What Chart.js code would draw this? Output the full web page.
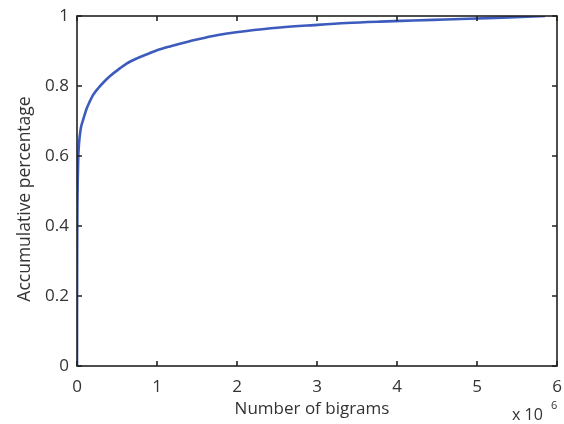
<!DOCTYPE html>
<html>
<head>
<meta charset="utf-8">
<script src="https://cdn.jsdelivr.net/npm/chart.js@4/dist/chart.umd.min.js"></script>
<style>
html,body{margin:0;padding:0;background:#fff;}
#c{display:block;}
</style>
</head>
<body>
<canvas id="c" width="564" height="424"></canvas>
<script>
// Number of bigrams (x 10^6)
const bigramsMillions = [0, 0.001, 0.003, 0.006, 0.01, 0.016, 0.022, 0.03, 0.04, 0.05, 0.065, 0.08, 0.1, 0.12, 0.16, 0.2, 0.27, 0.33, 0.41, 0.54, 0.62, 0.75, 0.9, 1.0, 1.16, 1.41, 1.7, 2.12, 2.54, 2.96, 3.37, 3.79, 4.2, 4.6, 5.0, 5.4, 5.85];
// Accumulative percentage
const accumulative = [0, 0.22, 0.38, 0.48, 0.54, 0.597, 0.625, 0.648, 0.667, 0.682, 0.695, 0.706, 0.721, 0.735, 0.756, 0.774, 0.795, 0.81, 0.828, 0.851, 0.864, 0.879, 0.893, 0.902, 0.913, 0.928, 0.943, 0.957, 0.967, 0.974, 0.980, 0.984, 0.987, 0.990, 0.993, 0.996, 1.0];
const xTickValues = [0, 1, 2, 3, 4, 5, 6];
const yTickValues = [0, 0.2, 0.4, 0.6, 0.8, 1];
const yTickLabels = ["0", "0.2", "0.4", "0.6", "0.8", "1"];
const xTitle = "Number of bigrams";
const yTitle = "Accumulative percentage";
const xMultiplier = "x 10";
const xExponent = "6";

const points = bigramsMillions.map((x, i) => ({x: x, y: accumulative[i]}));
const FONT = "'Open Sans', 'Liberation Sans', sans-serif";
const TXT = "#333";

const framePlugin = {
  id: 'frame',
  afterDraw(chart) {
    const ctx = chart.ctx;
    const a = chart.chartArea;
    const xs = chart.scales.x, ys = chart.scales.y;
    ctx.save();
    ctx.strokeStyle = "#222";
    ctx.lineWidth = 1.6;
    ctx.strokeRect(a.left, a.top, a.right - a.left, a.bottom - a.top);
    const L = 5;
    ctx.beginPath();
    xTickValues.forEach(v => {
      const px = xs.getPixelForValue(v);
      ctx.moveTo(px, a.bottom); ctx.lineTo(px, a.bottom - L);
      ctx.moveTo(px, a.top); ctx.lineTo(px, a.top + L);
    });
    yTickValues.forEach(v => {
      const py = ys.getPixelForValue(v);
      ctx.moveTo(a.left, py); ctx.lineTo(a.left + L, py);
      ctx.moveTo(a.right, py); ctx.lineTo(a.right - L, py);
    });
    ctx.stroke();
    ctx.fillStyle = TXT;
    // y axis title
    ctx.save();
    ctx.translate(25, 199);
    ctx.rotate(-Math.PI / 2);
    ctx.font = "17.5px " + FONT;
    ctx.textAlign = "center";
    ctx.textBaseline = "middle";
    ctx.fillText(yTitle, 0, 0);
    ctx.restore();
    // x axis title
    ctx.font = "17px " + FONT;
    ctx.textAlign = "center";
    ctx.textBaseline = "middle";
    ctx.fillText(xTitle, 312, 409);
    // multiplier
    ctx.font = "16px " + FONT;
    ctx.textBaseline = "middle";
    ctx.textAlign = "left";
    ctx.fillText(xMultiplier, 512, 415);
    ctx.font = "11px " + FONT;
    ctx.fillText(xExponent, 551, 406);
    ctx.restore();
  }
};

new Chart(document.getElementById('c'), {
  type: 'line',
  data: {
    datasets: [{
      data: points,
      borderColor: '#3c5bbd',
      borderWidth: 2.6,
      pointRadius: 0,
      fill: false,
      cubicInterpolationMode: 'monotone'
    }]
  },
  options: {
    responsive: false,
    animation: false,
    devicePixelRatio: 1,
    layout: {padding: {top: 16, right: 7, left: 0, bottom: 0}},
    plugins: {legend: {display: false}, tooltip: {enabled: false}},
    scales: {
      x: {
        type: 'linear', min: 0, max: 6,
        afterFit(s) { s.height = 58; s.paddingLeft = 0; s.paddingRight = 0; },
        afterBuildTicks(s) { s.ticks = xTickValues.map(v => ({value: v})); },
        grid: {display: false, drawTicks: false},
        border: {display: false},
        ticks: {color: TXT, font: {family: FONT, size: 17}, padding: 11, maxRotation: 0},
        title: {display: false}
      },
      y: {
        type: 'linear', min: 0, max: 1,
        afterFit(s) { s.width = 77; s.paddingTop = 0; s.paddingBottom = 0; },
        afterBuildTicks(s) { s.ticks = yTickValues.map(v => ({value: v})); },
        grid: {display: false, drawTicks: false},
        border: {display: false},
        ticks: {color: TXT, font: {family: FONT, size: 17}, padding: 8,
          callback: (v, i) => yTickLabels[i]},
        title: {display: false}
      }
    }
  },
  plugins: [framePlugin]
});
</script>
</body>
</html>
